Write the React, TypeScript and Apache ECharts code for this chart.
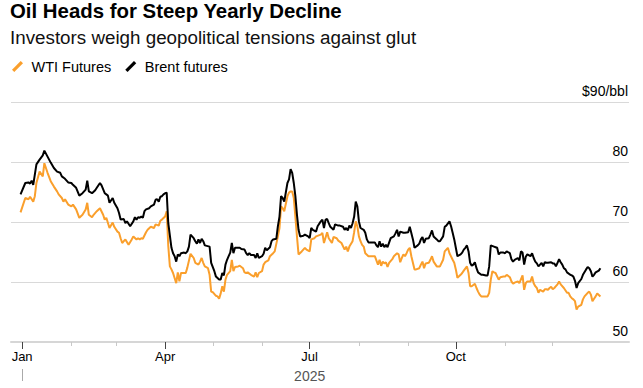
import React, { useEffect, useRef } from 'react';
import * as echarts from 'echarts';

const FONT = '"Liberation Sans", Arial, Helvetica, sans-serif';

const titleText = 'Oil Heads for Steep Yearly Decline';
const subtitleText = 'Investors weigh geopolitical tensions against glut';
const seriesNames = ['WTI Futures', 'Brent futures'];
const seriesColors = ['#FA9F2C', '#000000'];
const monthNames = ['Jan', 'Feb', 'Mar', 'Apr', 'May', 'Jun', 'Jul', 'Aug', 'Sep', 'Oct', 'Nov', 'Dec'];
const quarterMonths = [0, 3, 6, 9];
const otherMonths = [1, 2, 4, 5, 7, 8, 10, 11];
const yearLabel = '2025';
const yMin = 50;
const yMax = 90;
const yStep = 10;
const yUnit = '$90/bbl';

// days since 1 Jan 2025
const brentDay = [
  -1, 2, 4, 5, 6, 7, 9, 11, 13, 14, 16, 18, 20, 22, 24, 25, 27, 29, 31, 32, 34, 36, 38, 40, 41, 42, 44, 46, 47, 49, 50, 52, 53, 54,
  55, 57, 58, 60, 61, 62, 64, 65, 66, 67, 68, 70, 71, 72, 73, 74, 75, 76, 77, 78, 80, 81, 83, 84, 85, 86, 87, 88, 89, 90, 91, 92, 94, 95, 96, 97, 98, 99, 100, 102, 103, 104, 105, 106, 108, 109, 110, 111, 112, 113, 114, 115,
  118, 119, 121, 122, 124, 125, 126, 127, 128, 129, 130, 131, 132, 133, 134, 136, 137, 138, 140, 141, 142, 143, 144, 146, 147, 148, 149, 151, 152, 153, 154, 156, 157, 158, 160, 161, 162, 163, 164, 165, 167, 168, 169, 170, 171, 172, 173, 174, 175, 177, 178, 180,
  181, 182, 183, 185, 186, 188, 189, 190, 191, 192, 193, 194, 196, 197, 199, 200, 202, 203, 204, 205, 206, 207, 208, 209, 210, 211, 212, 213, 215, 216, 217, 218, 220, 222, 223, 224, 225, 226, 227, 228, 229, 230, 232, 234, 235, 236, 237, 238, 240, 241,
  243, 244, 246, 247, 249, 250, 251, 252, 253, 254, 256, 257, 258, 259, 261, 262, 263, 265, 266, 267, 269, 270, 271, 272, 273, 274, 276, 277, 278, 279, 280, 281, 282, 283, 284, 285, 286, 287, 289, 290, 292, 293, 294, 295, 297, 298, 299, 300, 301, 303, 304,
  305, 307, 308, 309, 310, 312, 313, 314, 315, 316, 317, 318, 320, 321, 322, 323, 324, 325, 326, 327, 328, 329, 330, 331, 333, 334, 335, 336, 337, 338, 339, 340, 341, 342, 343, 345, 346, 347, 348, 349, 350, 352, 353, 355, 356, 357, 358, 359, 360, 361, 363, 364,
];
const brentPrice = [
  74.6, 76.5, 76.6, 76.4, 76.9, 76.2, 79.6, 80.4, 81.1, 81.9, 80.9, 79.9, 79.0, 78.4, 78.2, 77.6, 77.2, 76.6, 76.5, 76.2, 75.7, 74.4, 74.8, 75.4, 76.9, 75.1, 74.8, 75.3, 75.7, 76.5, 76.1, 74.8, 74.6, 74.4,
  73.2, 74.0, 73.2, 72.3, 71.5, 70.4, 70.5, 69.8, 70.1, 69.7, 69.3, 70.1, 70.8, 70.4, 70.8, 70.7, 70.9, 70.7, 71.8, 72.1, 72.3, 72.6, 72.9, 73.7, 73.8, 73.4, 74.2, 74.3, 74.6, 74.8, 74.9, 69.8, 65.7, 64.8, 64.3, 63.4, 64.6, 64.3, 64.8, 64.9, 64.8, 65.1, 65.9, 67.9, 67.3, 66.8, 66.4, 67.1, 66.5, 67.2, 66.8, 66.1,
  65.9, 63.2, 61.8, 60.9, 60.4, 60.4, 61.5, 61.1, 62.9, 63.7, 64.3, 64.9, 66.5, 64.8, 65.7, 65.7, 65.7, 65.5, 65.4, 64.8, 64.5, 64.8, 64.5, 64.5, 64.0, 64.8, 64.0, 64.3, 64.7, 65.7, 65.3, 65.8, 66.8, 67.1, 67.2, 69.3, 70.9, 74.3, 74.0, 73.4, 76.5, 77.1, 78.8, 78.2, 76.5, 74.3, 71.2, 68.7, 67.6, 67.7, 67.9, 67.6,
  67.3, 69.0, 68.7, 68.4, 69.3, 70.1, 70.4, 69.0, 70.4, 70.5, 69.8, 69.2, 68.7, 69.6, 69.4, 69.4, 69.2, 68.7, 69.0, 68.6, 69.4, 69.0, 69.8, 70.9, 73.4, 72.6, 70.1, 69.0, 68.7, 68.2, 67.1, 66.6, 66.6, 66.6, 66.1, 65.8, 66.8, 65.9, 66.4, 65.8, 66.2, 65.8, 67.3, 67.6, 68.1, 68.7, 67.6, 68.4, 68.2, 68.2,
  68.3, 69.2, 67.1, 65.7, 66.1, 66.4, 67.1, 67.5, 66.5, 67.2, 67.3, 67.9, 68.6, 67.6, 67.1, 66.8, 66.8, 67.6, 69.2, 69.4, 70.1, 69.3, 68.2, 67.1, 65.7, 64.3, 64.6, 64.9, 65.4, 65.7, 66.1, 65.1, 63.2, 62.7, 62.9, 63.3, 62.3, 61.6, 61.2, 61.2, 61.1, 61.1, 62.6, 66.1, 65.9, 65.8, 65.7, 64.6, 64.9, 64.9, 64.8,
  65.1, 64.8, 63.8, 63.4, 63.7, 64.0, 63.6, 65.1, 64.9, 62.9, 64.2, 64.6, 64.3, 64.8, 64.0, 63.4, 63.1, 62.6, 62.9, 63.2, 62.6, 63.3, 63.2, 63.2, 63.3, 63.1, 63.1, 62.6, 63.2, 63.8, 63.3, 62.9, 62.3, 62.1, 61.6, 61.2, 61.1, 60.9, 60.2, 59.0, 59.8, 60.5, 61.2, 62.1, 62.5, 62.3, 61.8, 60.9, 61.2, 61.6, 61.9, 62.3,
];

const wtiDay = [
  -1, 2, 4, 5, 7, 8, 9, 11, 13, 14, 16, 18, 20, 22, 23, 25, 26, 27, 29, 31, 32, 34, 36, 38, 40, 41, 42, 44, 45, 47, 49, 51, 52, 53, 55,
  57, 58, 60, 61, 62, 63, 64, 65, 67, 69, 70, 72, 73, 74, 75, 76, 78, 79, 81, 83, 84, 86, 87, 88, 90, 91, 92, 93, 94, 95, 97, 98, 99, 100, 102, 103, 104, 106, 108, 109, 111, 112, 113, 114, 115, 117,
  118, 119, 120, 122, 123, 124, 125, 126, 127, 128, 129, 131, 132, 133, 134, 136, 137, 139, 140, 141, 142, 143, 144, 146, 147, 148, 149, 151, 152, 153, 155, 156, 158, 159, 161, 162, 163, 164, 165, 167, 168, 169, 170, 171, 172, 173, 174, 176, 178, 179, 181,
  182, 184, 185, 188, 189, 190, 192, 193, 195, 196, 198, 199, 201, 203, 204, 205, 206, 208, 209, 210, 211, 212, 213, 214, 215, 216, 218, 220, 222, 224, 225, 226, 227, 228, 229, 230, 231, 233, 234, 236, 237, 238, 239, 240, 241, 242,
  243, 244, 245, 247, 248, 250, 251, 252, 253, 254, 256, 257, 258, 259, 261, 262, 263, 265, 266, 267, 268, 269, 271, 272, 273, 274, 276, 277, 278, 280, 281, 282, 283, 285, 286, 287, 288, 289, 291, 293, 294, 295, 296, 297, 298, 300, 301, 303, 304,
  305, 307, 308, 309, 310, 312, 313, 315, 316, 317, 318, 320, 321, 322, 323, 324, 325, 326, 328, 329, 330, 331, 332, 333, 334, 335, 336, 337, 338, 339, 341, 343, 344, 345, 346, 347, 348, 349, 350, 352, 353, 354, 356, 357, 358, 359, 360, 361, 362, 364,
];
const wtiPrice = [
  71.6, 74.0, 73.8, 74.2, 73.4, 74.3, 76.5, 78.4, 77.6, 79.8, 78.2, 76.8, 75.9, 75.1, 74.6, 74.0, 73.4, 73.8, 72.9, 72.6, 72.9, 72.1, 70.7, 71.2, 72.1, 73.2, 71.2, 70.8, 71.2, 71.8, 72.3, 71.2, 70.4, 70.7, 69.0,
  69.9, 69.2, 68.4, 68.2, 67.3, 66.5, 66.8, 67.1, 66.2, 67.1, 67.6, 67.1, 67.3, 67.1, 67.3, 67.2, 68.3, 68.7, 69.2, 69.0, 69.6, 69.4, 70.2, 70.4, 70.9, 71.8, 66.0, 62.6, 62.1, 61.5, 59.8, 61.6, 60.1, 61.5, 61.5, 61.5, 62.4, 64.7, 64.0, 63.2, 62.9, 63.4, 64.0, 63.2, 62.6, 62.3,
  61.2, 58.4, 58.3, 57.7, 57.6, 57.2, 58.1, 59.3, 58.4, 60.4, 61.2, 61.8, 63.7, 61.8, 62.5, 62.6, 62.7, 62.3, 61.6, 61.5, 61.6, 61.4, 61.2, 60.9, 61.6, 60.8, 61.5, 61.8, 62.9, 63.3, 63.6, 64.3, 64.8, 65.1, 67.6, 69.0, 72.6, 72.3, 71.8, 74.3, 74.9, 75.1, 75.1, 74.0, 70.9, 67.6, 64.6, 65.1, 65.7, 65.4, 65.1,
  67.1, 67.3, 67.6, 67.9, 68.2, 66.5, 68.3, 67.3, 66.5, 67.5, 67.3, 66.9, 66.5, 65.4, 65.9, 65.1, 65.9, 66.8, 68.3, 70.1, 69.3, 67.6, 66.8, 66.2, 65.9, 64.8, 64.3, 64.3, 64.3, 62.9, 63.7, 62.7, 63.4, 63.1, 63.3, 62.5, 63.2, 63.8, 64.3, 64.8, 64.6, 63.3, 64.0, 64.6, 64.3, 64.8,
  65.4, 65.7, 64.3, 62.1, 62.1, 62.3, 62.9, 63.4, 62.3, 63.1, 63.2, 63.7, 64.3, 63.4, 62.6, 62.6, 62.6, 63.7, 65.1, 65.4, 65.7, 64.8, 63.7, 63.2, 62.1, 60.7, 61.2, 61.5, 61.9, 62.6, 61.5, 59.3, 59.3, 59.7, 59.0, 58.4, 57.9, 57.6, 57.6, 57.6, 58.2, 60.4, 61.8, 61.6, 61.5, 60.4, 60.8, 60.9, 60.9,
  61.2, 60.8, 60.1, 59.7, 59.9, 60.1, 59.8, 61.1, 58.7, 59.8, 60.1, 60.1, 60.9, 59.8, 59.3, 59.0, 58.2, 58.7, 58.4, 58.8, 58.8, 58.7, 59.0, 59.2, 58.8, 59.0, 59.3, 59.6, 60.1, 59.6, 59.0, 58.2, 58.2, 57.6, 57.3, 57.1, 56.8, 55.4, 55.9, 56.2, 57.1, 57.6, 58.2, 58.4, 57.9, 56.8, 57.2, 57.6, 58.1, 57.6,
];

const DAY_MS = 86400000;
const dayToTime = (d: number) => Date.UTC(2025, 0, 1) + d * DAY_MS;
const monthStart = (m: number) => Date.UTC(2025, m, 1);
const axisStart = Date.UTC(2024, 11, 25);
const axisEnd = Date.UTC(2026, 0, 18);

const LEGEND_ICON = 'path://M0,9.5 L9.5,0 L12,2.5 L2.5,12 Z';

export default function App() {
  const ref = useRef<HTMLDivElement>(null);
  useEffect(() => {
    if (!ref.current) return;
    const chart = echarts.init(ref.current, undefined, { renderer: 'svg' });
    const wti = wtiDay.map((d, i) => [dayToTime(d), wtiPrice[i]]);
    const brent = brentDay.map((d, i) => [dayToTime(d), brentPrice[i]]);
    const baseX = {
      type: 'value', min: axisStart, max: axisEnd, position: 'bottom',
      splitLine: { show: false },
    };
    chart.setOption({
      animation: false,
      backgroundColor: '#ffffff',
      title: [
        {
          text: titleText, left: 10, top: 1, padding: 0,
          textStyle: { fontFamily: FONT, fontSize: 20.4, fontWeight: 'bold', color: '#000' },
        },
        {
          text: subtitleText, left: 10, top: 28, padding: 0,
          textStyle: { fontFamily: FONT, fontSize: 18.8, fontWeight: 'normal', color: '#111' },
        },
      ],
      legend: {
        left: 12, top: 59, padding: 0, itemWidth: 12, itemHeight: 11, itemGap: 14,
        icon: LEGEND_ICON,
        data: seriesNames,
        textStyle: { fontFamily: FONT, fontSize: 14.5, color: '#000', padding: [0, 0, 0, 3] },
      },
      grid: { left: 11, right: 14, top: 102, bottom: 46 },
      xAxis: [
        {
          ...baseX,
          axisLine: { show: true, lineStyle: { color: '#d6d6d6', width: 2 } },
          axisTick: { show: true, customValues: quarterMonths.map(monthStart), length: 7, lineStyle: { color: '#444', width: 1 } },
          axisLabel: {
            show: true, customValues: quarterMonths.map(monthStart), margin: 8,
            fontFamily: FONT, fontSize: 13, color: '#000',
            formatter: (v: number) => monthNames[new Date(v).getUTCMonth()],
          },
        },
        {
          ...baseX,
          axisLine: { show: false },
          axisTick: { show: true, customValues: otherMonths.map(monthStart), length: 4, lineStyle: { color: '#c8c8c8', width: 1 } },
          axisLabel: { show: false },
        },
        {
          ...baseX,
          offset: 27,
          axisLine: { show: false },
          axisTick: { show: true, customValues: [monthStart(0)], length: 12, lineStyle: { color: '#aaaaaa', width: 1 } },
          axisLabel: {
            show: true, customValues: [monthStart(6)], margin: 0,
            fontFamily: FONT, fontSize: 14, color: '#555',
            formatter: () => yearLabel,
          },
        },
      ],
      yAxis: {
        type: 'value', min: yMin, max: yMax, interval: yStep, position: 'right',
        axisLine: { show: false }, axisTick: { show: false },
        splitLine: { show: true, lineStyle: { color: '#d9d9d9', width: 1 } },
        axisLabel: {
          inside: true, margin: 1, verticalAlign: 'bottom', padding: [0, 0, 4, 0],
          fontFamily: FONT, fontSize: 14, color: '#000',
          formatter: (v: number) => (v === yMax ? yUnit : String(v)),
        },
      },
      series: [
        {
          name: seriesNames[0], type: 'line', data: wti, showSymbol: false, symbol: 'none',
          lineStyle: { color: seriesColors[0], width: 2 }, itemStyle: { color: seriesColors[0] },
        },
        {
          name: seriesNames[1], type: 'line', data: brent, showSymbol: false, symbol: 'none',
          lineStyle: { color: seriesColors[1], width: 2 }, itemStyle: { color: seriesColors[1] },
        },
      ],
    });
    return () => chart.dispose();
  }, []);
  return <div ref={ref} style={{ position: 'absolute', left: 0, top: 0, width: 643, height: 388 }} />;
}
